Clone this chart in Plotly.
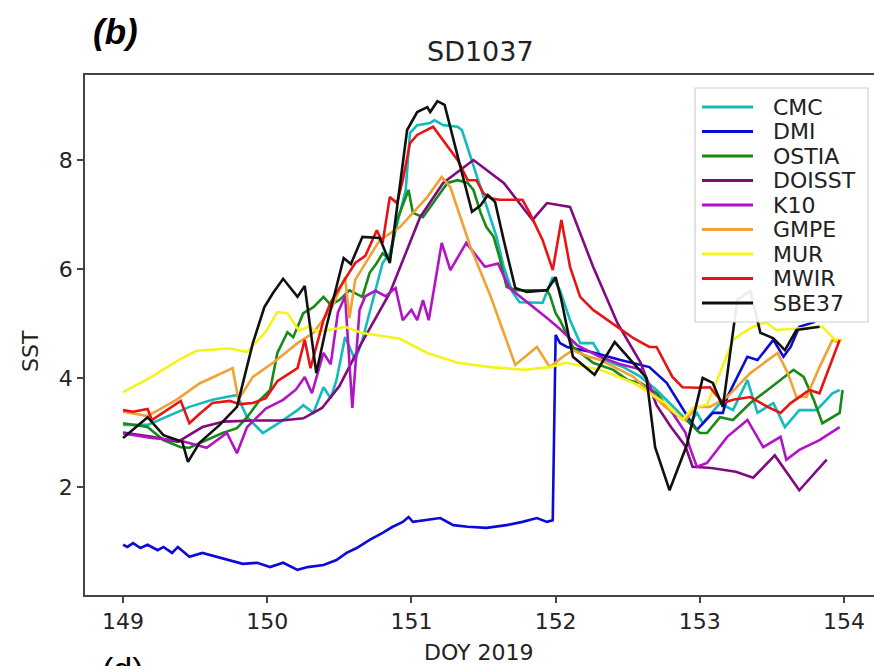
import plotly.graph_objects as go

# ---------------- data (DOY 2019, SST) ----------------
cmc_x = [149.00,149.17,149.46,149.62,149.79,149.86,149.97,150.09,150.21,150.25,150.32,150.39,150.44,150.48,150.54,150.61,150.66,150.71,150.80,150.85,150.90,150.96,150.99,151.04,151.13,151.16,151.22,151.32,151.35,151.41,151.48,151.55,151.59,151.64,151.70,151.75,151.91,151.98,152.03,152.10,152.17,152.26,152.33,152.47,152.59,152.70,152.84,152.93,152.98,153.02,153.14,153.23,153.33,153.40,153.51,153.59,153.69,153.81,153.92,153.97]
cmc_y = [3.14,3.14,3.47,3.60,3.69,3.28,2.99,3.19,3.41,3.50,3.36,3.83,3.63,3.96,4.75,4.33,4.70,5.19,6.11,6.29,6.84,7.45,8.50,8.64,8.68,8.73,8.64,8.61,8.55,8.06,7.50,6.90,6.59,6.04,5.58,5.39,5.38,5.85,5.61,5.06,4.64,4.64,4.33,4.20,4.02,3.78,3.41,3.17,3.36,3.17,3.54,3.41,3.96,3.36,3.54,3.10,3.41,3.41,3.72,3.78]

dmi_x = [149.00,149.03,149.07,149.12,149.17,149.24,149.28,149.34,149.38,149.46,149.55,149.65,149.74,149.83,149.93,150.02,150.11,150.21,150.28,150.39,150.48,150.55,150.62,150.71,150.80,150.87,150.94,150.98,151.01,151.08,151.20,151.29,151.39,151.52,151.66,151.77,151.87,151.94,151.98,152.00,152.03,152.08,152.24,152.45,152.65,152.77,152.86,152.93,152.98,153.09,153.16,153.19,153.33,153.40,153.51,153.58,153.63,153.69,153.80]
dmi_y = [0.94,0.90,0.97,0.88,0.94,0.84,0.90,0.79,0.90,0.72,0.79,0.72,0.66,0.59,0.61,0.53,0.61,0.48,0.53,0.57,0.66,0.79,0.88,1.03,1.16,1.27,1.36,1.45,1.36,1.39,1.43,1.30,1.27,1.25,1.30,1.36,1.43,1.36,1.39,4.79,4.64,4.57,4.48,4.33,4.20,3.91,3.54,3.23,3.05,3.36,3.36,3.65,4.39,4.33,4.70,4.39,4.57,4.94,5.03]

ostia_x = [149.00,149.17,149.28,149.40,149.46,149.58,149.69,149.79,149.86,149.95,150.02,150.07,150.14,150.18,150.25,150.32,150.39,150.44,150.50,150.57,150.66,150.71,150.76,150.80,150.85,150.90,150.98,151.01,151.08,151.18,151.25,151.32,151.39,151.43,151.48,151.52,151.57,151.61,151.66,151.73,151.94,151.96,152.00,152.03,152.12,152.26,152.40,152.50,152.59,152.70,152.81,152.91,153.00,153.05,153.14,153.23,153.35,153.47,153.56,153.65,153.72,153.79,153.85,153.97,153.99]
ostia_y = [3.17,3.10,2.86,2.73,2.72,2.86,2.99,3.08,3.28,3.60,3.78,4.46,4.84,4.75,5.19,5.30,5.49,5.34,5.43,5.61,5.49,5.93,6.11,6.29,6.17,6.90,7.45,7.03,6.95,7.32,7.58,7.63,7.58,7.45,7.03,6.77,6.59,6.22,5.67,5.61,5.61,5.52,5.19,5.06,4.57,4.28,4.15,3.96,3.91,3.72,3.36,3.23,2.99,2.99,3.28,3.23,3.54,3.78,3.96,4.15,4.02,3.60,3.17,3.36,3.78]

doisst_x = [149.00,149.20,149.38,149.55,149.70,149.90,150.10,150.25,150.38,150.50,150.65,150.85,151.06,151.22,151.43,151.64,151.84,151.94,152.10,152.26,152.43,152.59,152.70,152.80,152.90,152.95,153.08,153.25,153.37,153.52,153.69,153.88]
doisst_y = [3.00,2.92,2.83,3.10,3.20,3.22,3.22,3.26,3.45,3.85,4.62,5.56,6.95,7.58,8.00,7.58,6.90,7.21,7.14,6.04,5.00,4.28,3.50,3.10,2.75,2.37,2.35,2.28,2.17,2.58,1.94,2.50]

k10_x = [149.00,149.20,149.40,149.58,149.72,149.79,149.86,149.99,150.11,150.20,150.26,150.31,150.39,150.44,150.49,150.54,150.59,150.64,150.68,150.75,150.82,150.89,150.94,151.00,151.04,151.08,151.12,151.21,151.27,151.38,151.51,151.60,151.68,151.80,151.94,152.03,152.15,152.30,152.45,152.60,152.68,152.80,152.90,152.93,152.98,153.05,153.19,153.33,153.44,153.56,153.60,153.69,153.83,153.97]
k10_y = [2.98,2.90,2.85,2.72,2.99,2.62,3.10,3.44,3.60,3.79,4.02,3.72,4.46,4.25,5.20,5.50,3.45,5.25,5.50,5.60,5.50,5.65,5.06,5.25,5.06,5.43,5.06,6.48,5.98,6.48,6.04,6.10,5.65,5.40,5.10,4.90,4.60,4.40,4.25,4.15,3.70,3.40,3.00,2.73,2.37,2.44,2.92,3.23,2.73,2.92,2.50,2.68,2.86,3.10]

gmpe_x = [149.00,149.17,149.37,149.53,149.76,149.80,149.90,150.04,150.21,150.32,150.45,150.54,150.57,150.61,150.78,150.92,151.01,151.11,151.21,151.27,151.41,151.55,151.64,151.72,151.87,151.96,152.05,152.12,152.22,152.31,152.54,152.76,152.90,152.98,153.07,153.19,153.35,153.54,153.61,153.67,153.74,153.83,153.92,153.97]
gmpe_y = [3.38,3.30,3.60,3.90,4.18,3.60,4.02,4.28,4.64,4.83,5.30,5.85,5.10,5.80,6.53,6.77,7.03,7.32,7.69,7.50,6.40,5.49,4.83,4.24,4.57,4.20,4.39,4.51,4.40,4.33,4.02,3.47,3.23,3.47,3.47,3.65,4.09,4.46,4.09,3.65,3.65,4.20,4.70,4.64]

mur_x = [149.00,149.17,149.40,149.51,149.74,149.86,149.99,150.07,150.14,150.22,150.29,150.35,150.43,150.54,150.65,150.78,150.92,151.11,151.32,151.55,151.78,151.96,152.07,152.31,152.54,152.76,152.88,152.95,153.05,153.14,153.23,153.30,153.37,153.46,153.53,153.85,153.94,153.99]
mur_y = [3.74,3.98,4.35,4.50,4.54,4.48,4.85,5.21,5.19,4.87,4.94,4.85,4.88,4.94,4.83,4.78,4.72,4.46,4.28,4.20,4.15,4.20,4.28,4.15,3.91,3.54,3.23,3.45,3.51,4.09,4.70,4.83,4.94,5.02,4.88,4.94,4.70,4.70]

mwir_x = [149.00,149.07,149.17,149.20,149.40,149.46,149.53,149.62,149.74,149.81,149.90,149.99,150.07,150.21,150.26,150.30,150.39,150.44,150.51,150.56,150.61,150.68,150.76,150.80,150.85,150.90,150.94,150.99,151.04,151.15,151.25,151.32,151.39,151.45,151.50,151.55,151.61,151.77,151.82,151.91,151.98,152.04,152.10,152.17,152.26,152.43,152.54,152.65,152.70,152.81,152.88,152.98,153.07,153.16,153.23,153.35,153.47,153.56,153.63,153.69,153.76,153.83,153.92,153.97]
mwir_y = [3.41,3.38,3.43,3.23,3.58,3.17,3.34,3.54,3.58,3.52,3.54,3.63,3.94,4.18,4.70,4.18,5.06,5.39,5.69,5.89,6.11,6.24,6.71,6.48,7.32,7.21,7.63,8.31,8.46,8.61,8.24,8.00,7.63,7.63,7.39,7.30,7.27,7.27,7.03,6.53,5.98,6.90,6.04,5.49,5.25,4.94,4.73,4.57,4.57,4.02,3.83,3.82,3.83,3.54,3.60,3.65,3.47,3.36,3.54,3.65,3.78,3.72,4.33,4.70]

sbe_x = [149.00,149.17,149.28,149.41,149.45,149.53,149.67,149.79,149.90,149.98,150.04,150.11,150.21,150.26,150.34,150.41,150.53,150.58,150.66,150.78,150.85,150.92,150.97,151.04,151.11,151.13,151.18,151.23,151.27,151.34,151.42,151.48,151.53,151.58,151.64,151.72,151.80,151.94,152.00,152.04,152.12,152.27,152.41,152.63,152.69,152.79,152.91,153.02,153.09,153.16,153.26,153.35,153.42,153.51,153.59,153.67,153.83]
sbe_y = [2.90,3.28,2.95,2.83,2.46,2.81,3.14,3.47,4.64,5.30,5.56,5.82,5.49,5.69,4.09,4.94,6.20,6.09,6.59,6.57,6.11,7.58,8.55,8.88,8.97,8.88,9.08,9.01,8.61,7.87,7.05,7.17,7.36,7.23,6.53,5.65,5.58,5.61,5.85,5.43,4.39,4.06,4.66,4.00,2.73,1.94,2.77,4.00,3.91,3.47,5.43,5.60,4.83,4.73,4.51,4.88,4.94]

series_names = ["CMC", "DMI", "OSTIA", "DOISST", "K10", "GMPE", "MUR", "MWIR", "SBE37"]
series_colors = ["#12bcbc", "#0b0bd8", "#178a17", "#800a80", "#b014c4",
                 "#f0a232", "#f4f41c", "#e81414", "#111111"]
series_x = [cmc_x, dmi_x, ostia_x, doisst_x, k10_x, gmpe_x, mur_x, mwir_x, sbe_x]
series_y = [cmc_y, dmi_y, ostia_y, doisst_y, k10_y, gmpe_y, mur_y, mwir_y, sbe_y]

x_ticks = [149, 150, 151, 152, 153, 154]
y_ticks = [2, 4, 6, 8]

W, H = 874, 666
L, R, T, B = 85, 0, 75, 71

def px(xp):
    return (xp - L) / (W - L - R)

def py(yp):
    return (H - B - yp) / (H - T - B)

fig = go.Figure()
for name, xs, ys, col in zip(series_names, series_x, series_y, series_colors):
    fig.add_trace(go.Scatter(x=xs, y=ys, mode="lines", name=name,
                             line=dict(color=col, width=2.6)))

font = "DejaVu Sans"
txt = "#222222"

# legend (matplotlib style box drawn above the lines)
shapes = [dict(type="rect", xref="paper", yref="paper",
               x0=px(695), x1=px(868), y0=py(322), y1=py(88),
               fillcolor="rgba(255,255,255,0.92)", line=dict(color="#cfcfcf", width=1.2),
               layer="above")]
annotations = []
for i, (name, col) in enumerate(zip(series_names, series_colors)):
    yc = 107 + i * 24.5
    shapes.append(dict(type="line", xref="paper", yref="paper",
                       x0=px(702), x1=px(753), y0=py(yc), y1=py(yc),
                       line=dict(color=col, width=3), layer="above"))
    annotations.append(dict(text=name, x=px(771), y=py(yc), xref="paper", yref="paper",
                            xanchor="left", yanchor="middle", showarrow=False,
                            font=dict(size=22, family=font, color=txt)))

annotations += [
    dict(text="SD1037", x=px(480), y=py(52), xref="paper", yref="paper",
         xanchor="center", yanchor="middle", showarrow=False,
         font=dict(size=27, family=font, color=txt)),
    dict(text="DOY 2019", x=px(478), y=py(652), xref="paper", yref="paper",
         xanchor="center", yanchor="middle", showarrow=False,
         font=dict(size=22, family=font, color=txt)),
    dict(text="SST", x=px(30), y=py(351), xref="paper", yref="paper",
         xanchor="center", yanchor="middle", showarrow=False, textangle=-90,
         font=dict(size=22, family=font, color=txt)),
    dict(text="<b><i>(b)</i></b>", x=px(91), y=py(31), xref="paper", yref="paper",
         xanchor="left", yanchor="middle", showarrow=False,
         font=dict(size=35, family="Liberation Sans", color="#000000")),
    dict(text="(d)", x=px(100), y=py(648), xref="paper", yref="paper",
         xanchor="left", yanchor="top", showarrow=False,
         font=dict(size=34, family="Liberation Sans", color="#000000")),
]

fig.update_layout(
    width=W, height=H,
    margin=dict(l=L, r=R, t=T, b=B, autoexpand=False),
    paper_bgcolor="white", plot_bgcolor="white",
    font=dict(family=font, size=22, color=txt),
    showlegend=False,
    xaxis=dict(range=[148.736, 154.208], tickvals=x_ticks,
               ticktext=[str(v) for v in x_ticks], automargin=False,
               showgrid=False, zeroline=False, showline=True, mirror=True,
               linecolor="#444444", linewidth=1.8, ticks="outside",
               ticklen=6, tickwidth=1.5, tickcolor="#444444",
               tickfont=dict(size=22, color=txt)),
    yaxis=dict(range=[0.018, 9.56], tickvals=y_ticks,
               ticktext=[str(v) for v in y_ticks], automargin=False,
               showgrid=False, zeroline=False, showline=True, mirror=False,
               linecolor="#444444", linewidth=1.8, ticks="outside",
               ticklen=6, tickwidth=1.5, tickcolor="#444444",
               tickfont=dict(size=22, color=txt)),
    shapes=shapes,
    annotations=annotations,
)

fig.write_html("out.html", config={"displayModeBar": False},
               post_script="document.body.style.margin='0';")
